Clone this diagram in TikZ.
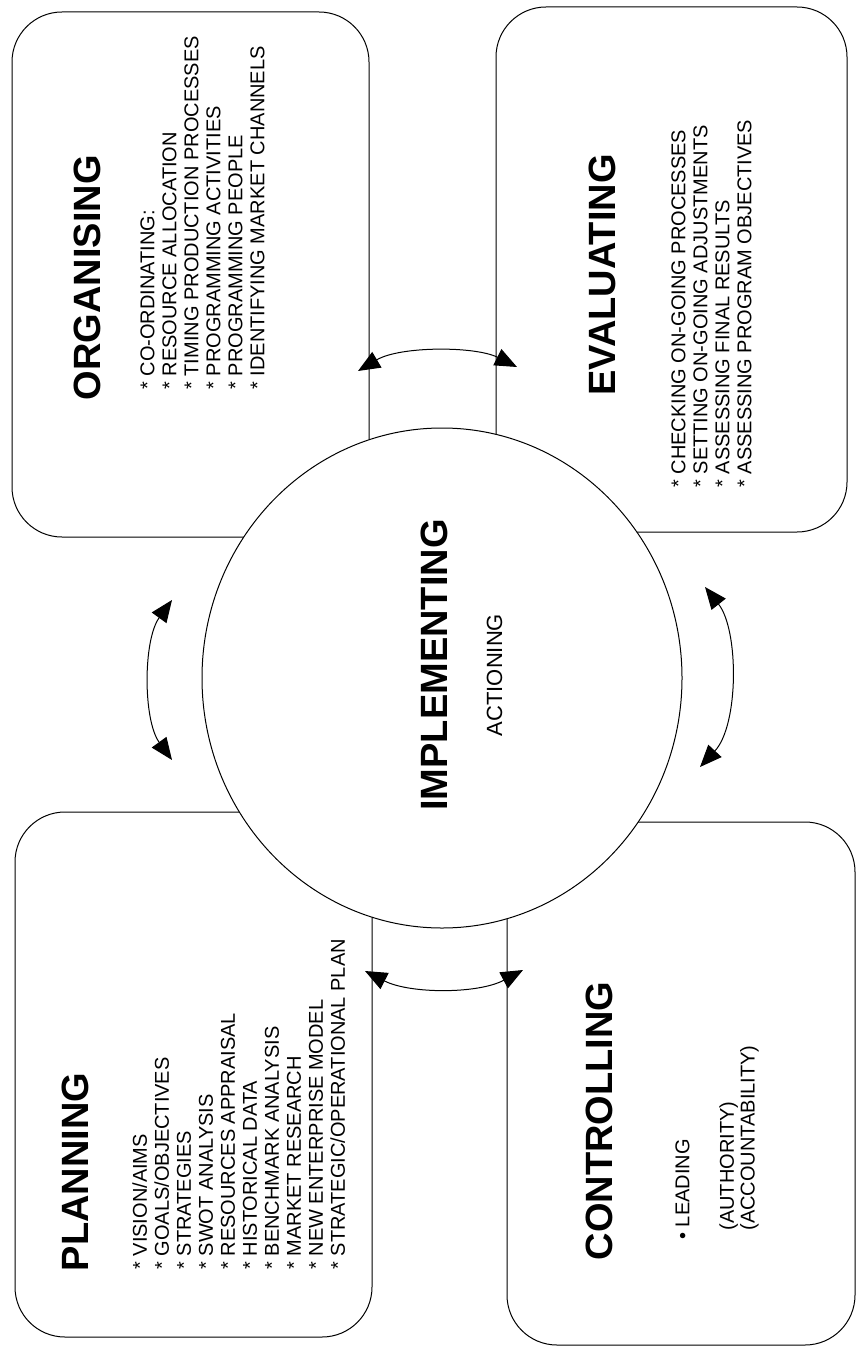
\documentclass[tikz,border=0pt]{standalone}
\usepackage{fontspec}
\setmainfont{Liberation Sans}
\usetikzlibrary{shapes.geometric, arrows.meta}

\begin{document}
\begin{tikzpicture}[
    x=0.5pt, y=-0.5pt,
    panel/.style={rectangle, draw, line width=0.5pt, rounded corners=25pt, minimum height=262.5pt},
    hub/.style={ellipse, draw, fill=white, line width=0.5pt, minimum width=240pt, minimum height=250pt},
    heading/.style={rotate=90, anchor=base, inner sep=0pt, font=\bfseries\fontsize{19}{22}\selectfont},
    items/.style={rotate=90, anchor=north west, inner sep=0pt, align=left, font=\fontsize{10}{11}\selectfont},
    swing/.style={{Triangle[length=11pt, width=9pt]}-{Triangle[length=11pt, width=9pt]}, line width=0.5pt}
]
\path[use as bounding box, fill=white] (0,0) rectangle (858,1348);

% Four quadrants
\node[panel, minimum width=178.5pt] (org) at (190.5, 274.5) {};
\node[panel, minimum width=175.5pt] (eval) at (671.5, 269.5) {};
\node[panel, minimum width=178.5pt] (plan) at (193.5, 1074.5) {};
\node[panel, minimum width=174pt, minimum height=261.5pt] (ctrl) at (681, 1083.5) {};

% Centre
\node[hub] (impl) at (442, 678) {};
\node[heading] (implT) at (447, 665) {IMPLEMENTING};
\node[rotate=90, anchor=base, inner sep=0pt, font=\fontsize{11}{13}\selectfont] (act) at (502, 675) {ACTIONING};

% Headings
\node[heading, anchor=base east] (orgT) at (100, 155) {ORGANISING};
\node[heading] (evalT) at (615, 275) {EVALUATING};
\node[heading] (planT) at (88, 1172) {PLANNING};
\node[heading] (ctrlT) at (612, 1121) {CONTROLLING};

% Lists
\node[items] (orgL) at (140, 390) {* CO-ORDINATING:\\* RESOURCE ALLOCATION\\* TIMING PRODUCTION PROCESSES\\* PROGRAMMING ACTIVITIES\\* PROGRAMMING PEOPLE\\* IDENTIFYING MARKET CHANNELS};
\node[items] (evalL) at (671, 488) {* CHECKING ON-GOING PROCESSES\\* SETTING ON-GOING ADJUSTMENTS\\* ASSESSING FINAL RESULTS\\* ASSESSING PROGRAM OBJECTIVES};
\node[items] (planL) at (132, 1270) {* VISION/AIMS\\* GOALS/OBJECTIVES\\* STRATEGIES\\* SWOT ANALYSIS\\* RESOURCES APPRAISAL\\* HISTORICAL DATA\\* BENCHMARK ANALYSIS\\* MARKET RESEARCH\\* NEW ENTERPRISE MODEL\\* STRATEGIC/OPERATIONAL PLAN};
\node[items] (ctrlL) at (675, 1240) {\textbullet\ LEADING};
\node[items, font=\fontsize{10}{7.5}\selectfont] (ctrlR) at (719, 1231) {(AUTHORITY)\\(ACCOUNTABILITY)};

% Arrow ends
\coordinate (orgTip) at (358, 371);
\coordinate (evalTip) at (517, 367);
\coordinate (evalBot) at (705, 587);
\coordinate (ctrlTop) at (700, 767);
\coordinate (ctrlTip) at (523, 970);
\coordinate (planTip) at (365, 971);
\coordinate (planTop) at (172, 760);
\coordinate (orgBot) at (172, 600);

\draw[swing] (orgTip) .. controls (400, 346) and (475, 346) .. (evalTip);
\draw[swing] (evalBot) .. controls (739, 630) and (739, 725) .. (ctrlTop);
\draw[swing] (ctrlTip) .. controls (478, 994) and (410, 994) .. (planTip);
\draw[swing] (planTop) .. controls (143, 720) and (143, 640) .. (orgBot);

\end{tikzpicture}
\end{document}
